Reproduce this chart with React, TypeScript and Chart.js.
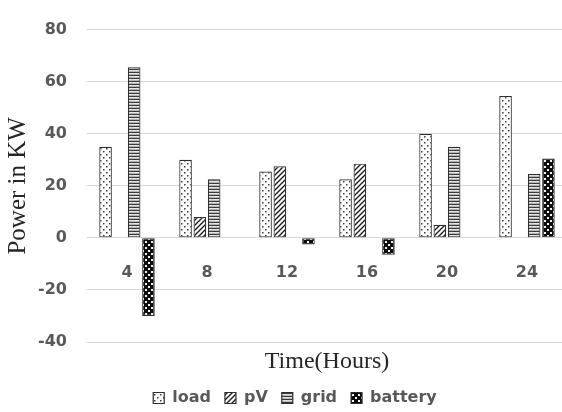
import { useEffect, useRef } from "react";
import { Chart, registerables } from "chart.js";

Chart.register(...registerables);

// Hours of the day on the category axis
const hours = ["4", "8", "12", "16", "20", "24"];

// Power flows in kW at each hour
const load = [35, 30, 25.5, 22.5, 40, 54.5];
const pv = [0, 8, 27.5, 28.5, 5, 0];
const grid = [65.5, 22.5, 0, 0, 35, 24.5];
const battery = [-30, 0, -2.5, -6.5, 0, 30.5];

// Value axis range
const yMin = -40;
const yMax = 80;
const yStep = 20;

const seriesNames = ["load", "pV", "grid", "battery"];

function makePattern(w: number, h: number, paint: (g: CanvasRenderingContext2D) => void): CanvasPattern {
  const c = document.createElement("canvas");
  c.width = w;
  c.height = h;
  const g = c.getContext("2d")!;
  paint(g);
  return g.createPattern(c, "repeat")!;
}

function buildPatterns() {
  const dotted = makePattern(6, 6, (g) => {
    g.fillStyle = "#ffffff";
    g.fillRect(0, 0, 6, 6);
    g.fillStyle = "#3c3c3c";
    g.fillRect(1, 1, 1.5, 1.5);
    g.fillRect(4, 4, 1.5, 1.5);
  });
  const diagonal = makePattern(5, 5, (g) => {
    g.fillStyle = "#ffffff";
    g.fillRect(0, 0, 5, 5);
    g.strokeStyle = "#1e1e1e";
    g.lineWidth = 1.4;
    g.beginPath();
    g.moveTo(-1, 6);
    g.lineTo(6, -1);
    g.moveTo(-1, 1);
    g.lineTo(1, -1);
    g.moveTo(4, 6);
    g.lineTo(6, 4);
    g.stroke();
  });
  const horizontal = makePattern(4, 3, (g) => {
    g.fillStyle = "#e4e4e4";
    g.fillRect(0, 0, 4, 3);
    g.fillStyle = "#3a3a3a";
    g.fillRect(0, 0, 4, 1);
    g.fillStyle = "#b4b4b4";
    g.fillRect(0, 2, 4, 1);
  });
  const checker = makePattern(6, 6, (g) => {
    g.fillStyle = "#0d0d0d";
    g.fillRect(0, 0, 6, 6);
    g.fillStyle = "#f2f2f2";
    g.fillRect(1, 1, 2, 2);
    g.fillRect(4, 4, 2, 2);
  });
  return [dotted, diagonal, horizontal, checker];
}

const sansFont = { family: "'DejaVu Sans', sans-serif", size: 16, weight: "bold" as const };
const textGray = "#595959";

export default function App() {
  const canvasRef = useRef<HTMLCanvasElement | null>(null);

  useEffect(() => {
    const canvas = canvasRef.current;
    if (!canvas) return;
    const fills = buildPatterns();
    const values = [load, pv, grid, battery];

    const chart = new Chart(canvas, {
      type: "bar",
      data: {
        labels: hours,
        datasets: values.map((v, i) => ({
          label: seriesNames[i],
          data: v,
          xAxisID: "x",
          yAxisID: "y",
          backgroundColor: fills[i],
          borderColor: "#2e2e2e",
          borderWidth: 1.2,
          borderSkipped: false,
          barPercentage: 0.88,
          categoryPercentage: 0.715,
        })),
      },
      options: {
        responsive: false,
        animation: false,
        devicePixelRatio: 1,
        layout: { padding: { left: 23, right: 1, top: 17, bottom: 0 } },
        plugins: {
          tooltip: { enabled: false },
          title: { display: false },
          legend: {
            position: "bottom",
            align: "center",
            labels: {
              boxWidth: 11,
              boxHeight: 11,
              padding: 14,
              color: textGray,
              font: sansFont,
            },
          },
        },
        scales: {
          x: {
            type: "category",
            position: { y: 0 },
            offset: true,
            grid: { display: false, drawTicks: false },
            border: { display: false },
            ticks: { color: textGray, font: sansFont, padding: 25, maxRotation: 0 },
          },
          xTitle: {
            type: "category",
            axis: "x",
            position: "bottom",
            labels: hours,
            grid: { display: false, drawTicks: false },
            border: { display: false },
            ticks: { display: false },
            title: {
              display: true,
              text: "Time(Hours)",
              color: "#262626",
              font: { family: "'Liberation Serif', serif", size: 24 },
              padding: { top: 0, bottom: 0 },
            },
            afterFit: (scale: any) => {
              scale.height = 34;
            },
          },
          y: {
            min: yMin,
            max: yMax,
            grid: { color: "#d9d9d9", lineWidth: 1, drawTicks: false },
            border: { display: false },
            ticks: { stepSize: yStep, color: textGray, font: sansFont, padding: 20 },
            title: {
              display: true,
              text: "Power in KW",
              color: "#262626",
              font: { family: "'Liberation Serif', serif", size: 25 },
              padding: { top: -19.5, bottom: 0 },
            },
            afterFit: (scale: any) => {
              scale.width = 64;
            },
          },
        },
      } as any,
    });
    return () => chart.destroy();
  }, []);

  return (
    <div
      style={{
        position: "fixed",
        left: 0,
        top: 0,
        width: 562,
        height: 412,
        overflow: "hidden",
        background: "#ffffff",
      }}
    >
      <canvas ref={canvasRef} width={568} height={416} style={{ display: "block" }} />
    </div>
  );
}
